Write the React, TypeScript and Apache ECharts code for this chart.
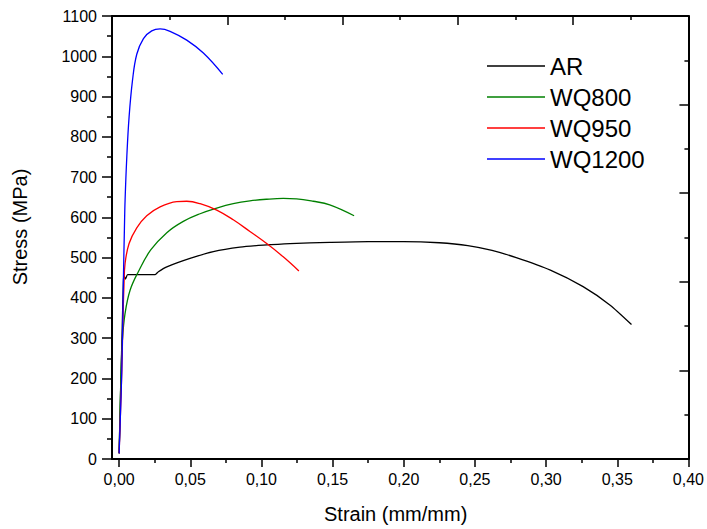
import React, { useEffect, useRef } from "react";
import * as echarts from "echarts";

// ---- Data (strain mm/mm, stress MPa) ----
const seriesNames = ["AR", "WQ800", "WQ950", "WQ1200"];
const seriesColors = ["#000000", "#008000", "#ff0000", "#0000ff"];

const arData: [number, number][] = [
  [0, 14], [0.0012, 190], [0.0022, 330], [0.003, 440], [0.0034, 455],
  [0.0045, 447], [0.006, 458], [0.015, 458], [0.0253, 458], [0.0276, 465],
  [0.0335, 477], [0.0498, 498], [0.0662, 515], [0.0849, 526], [0.1013, 531],
  [0.12, 535], [0.148, 538], [0.175, 540], [0.2, 540], [0.225, 537],
  [0.245, 530], [0.262, 518], [0.279, 500], [0.303, 469], [0.326, 428], [0.345, 382], [0.36, 334],
];
const wq800Data: [number, number][] = [
  [0, 14], [0.0012, 196], [0.0023, 295], [0.0042, 362], [0.0077, 419],
  [0.0135, 465], [0.0222, 519], [0.0335, 562], [0.0451, 590],
  [0.0569, 609], [0.0686, 623], [0.0802, 634], [0.0919, 641], [0.1037, 645],
  [0.1153, 647], [0.1247, 646], [0.1364, 640], [0.148, 631], [0.1651, 604],
];
const wq950Data: [number, number][] = [
  [0, 14], [0.0019, 221], [0.0026, 330], [0.0034, 430], [0.0042, 486],
  [0.007, 535], [0.0124, 574], [0.0194, 604], [0.0288, 626], [0.0405, 639],
  [0.0475, 640], [0.0569, 634], [0.0686, 618], [0.0802, 594], [0.0919, 565],
  [0.1037, 535], [0.1153, 502], [0.1263, 467],
];
const wq1200Data: [number, number][] = [
  [0, 14], [0.0019, 221], [0.003, 444], [0.0037, 568], [0.0042, 643],
  [0.0054, 750], [0.007, 849], [0.0094, 940], [0.0124, 1005], [0.0171, 1044],
  [0.0229, 1063], [0.0288, 1068], [0.0358, 1062], [0.0475, 1040], [0.0592, 1008],
  [0.0728, 955],
];
const allData = [arData, wq800Data, wq950Data, wq1200Data];

const xMajorTicks = [0, 0.05, 0.1, 0.15, 0.2, 0.25, 0.3, 0.35, 0.4];
const xMinorTicks = [0.025, 0.075, 0.125, 0.175, 0.225, 0.275, 0.325, 0.375];
const xTitle = "Strain (mm/mm)";
const yTitle = "Stress (MPa)";

const FONT = "'Liberation Sans', Arial, sans-serif";

export default function App() {
  const ref = useRef<HTMLDivElement>(null);
  useEffect(() => {
    if (!ref.current) return;
    const chart = echarts.init(ref.current, undefined, { renderer: "svg" });
    const axisLine = { show: true, onZero: false, lineStyle: { color: "#000", width: 2 } };
    const tickStyle = { color: "#000", width: 1.5 };
    chart.setOption({
      animation: false,
      backgroundColor: "#fff",
      textStyle: { fontFamily: FONT },
      grid: { left: 112, right: 18, top: 16, bottom: 70, containLabel: false },
      legend: {
        orient: "vertical",
        left: 482,
        top: 49,
        icon: "rect",
        itemWidth: 58,
        itemHeight: 1.5,
        itemGap: 7,
        data: seriesNames,
        textStyle: { fontSize: 24, color: "#000", fontFamily: FONT, lineHeight: 24 },
      },
      xAxis: [
        {
          type: "value",
          position: "bottom",
          min: -0.005,
          max: 0.4,
          axisLine,
          splitLine: { show: false },
          axisTick: { show: true, customValues: xMajorTicks, length: 8, lineStyle: tickStyle },
          axisLabel: {
            customValues: xMajorTicks,
            formatter: (v: number) => v.toFixed(2).replace(".", ","),
            fontSize: 16,
            color: "#000",
            margin: 12,
            fontFamily: FONT,
          },
        },
        {
          type: "value",
          position: "bottom",
          min: -0.005,
          max: 0.4,
          axisLine: { show: false, onZero: false },
          splitLine: { show: false },
          axisTick: { show: true, customValues: xMinorTicks, length: 4, lineStyle: tickStyle },
          axisLabel: { show: false },
        },
        {
          type: "value",
          position: "top",
          min: 0,
          max: 10,
          interval: 2,
          axisLine,
          splitLine: { show: false },
          axisTick: { show: true, inside: true, length: 9, lineStyle: tickStyle },
          minorTick: { show: true, splitNumber: 2, length: 4, lineStyle: tickStyle },
          axisLabel: { show: false },
        },
      ],
      yAxis: [
        {
          type: "value",
          position: "left",
          min: 0,
          max: 1100,
          interval: 100,
          axisLine,
          splitLine: { show: false },
          axisTick: { show: true, length: 10, lineStyle: tickStyle },
          minorTick: { show: true, splitNumber: 2, length: 5, lineStyle: tickStyle },
          axisLabel: {
            fontSize: 16,
            color: "#000",
            margin: 15,
            fontFamily: FONT,
            formatter: (v: number) => String(v),
          },
        },
        {
          type: "value",
          position: "right",
          min: 0,
          max: 10,
          interval: 2,
          axisLine,
          splitLine: { show: false },
          axisTick: { show: true, inside: true, length: 9, lineStyle: tickStyle },
          minorTick: { show: true, splitNumber: 2, length: 4, lineStyle: tickStyle },
          axisLabel: { show: false },
        },
      ],
      graphic: [
        {
          type: "text",
          left: 324,
          top: 504,
          style: { text: xTitle, fontSize: 20, fill: "#000", fontFamily: FONT },
        },
        {
          type: "text",
          x: 20,
          y: 227,
          rotation: Math.PI / 2,
          style: {
            text: yTitle,
            fontSize: 20,
            fill: "#000",
            fontFamily: FONT,
            align: "center",
            verticalAlign: "middle",
          },
        },
      ],
      series: seriesNames.map((name, i) => ({
        name,
        type: "line",
        xAxisIndex: 0,
        yAxisIndex: 0,
        data: allData[i],
        showSymbol: false,
        symbol: "none",
        smooth: i === 0 ? 0.2 : 0.4,
        color: seriesColors[i],
        itemStyle: { color: seriesColors[i] },
        lineStyle: { color: seriesColors[i], width: 1.3 },
      })),
    });
    return () => chart.dispose();
  }, []);
  return (
    <div
      ref={ref}
      style={{ position: "absolute", left: 0, top: 0, width: 707, height: 529 }}
    />
  );
}
